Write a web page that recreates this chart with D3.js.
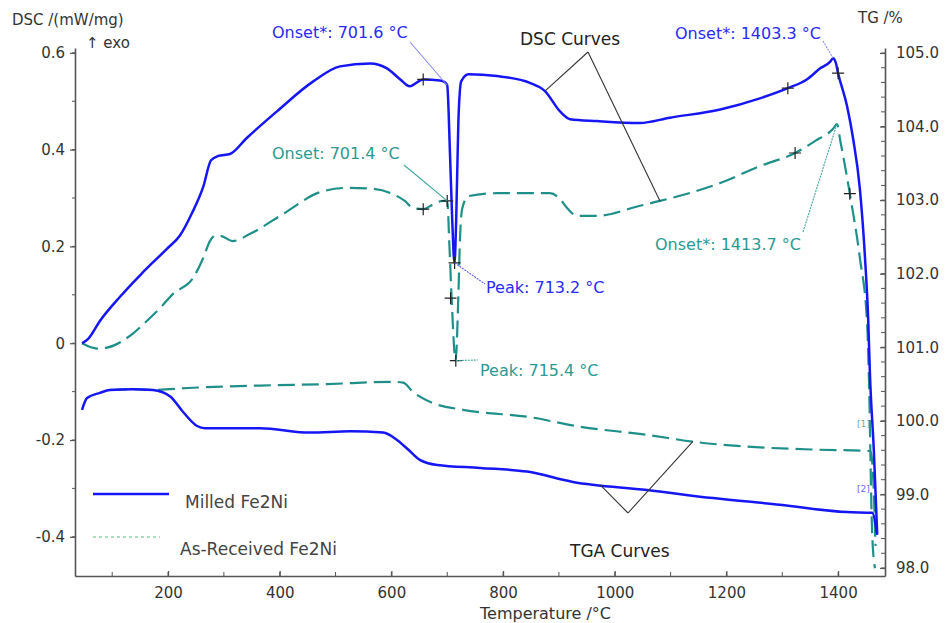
<!DOCTYPE html>
<html>
<head>
<meta charset="utf-8">
<script src="https://cdn.jsdelivr.net/npm/d3@7"></script>
<style>
  body { margin: 0; background: #fff; }
  svg { display: block; font-family: "DejaVu Sans", sans-serif; }
</style>
</head>
<body>
<script>
// temperatures (°C) and readings
const milledDscT = [46, 57, 78, 114, 152, 198, 221, 243, 263, 277, 290, 311, 341, 395, 460, 508, 562, 592, 616, 633, 657, 687, 696, 700, 705, 709, 713, 716, 720, 725, 738, 789, 848, 875, 902, 920, 968, 1045, 1099, 1189, 1260, 1310, 1344, 1368, 1386, 1391, 1396, 1400, 1416, 1427, 1439, 1448, 1454, 1457, 1464, 1470];
const milledDsc = [0.0, 0.009, 0.046, 0.096, 0.143, 0.195, 0.222, 0.269, 0.323, 0.378, 0.387, 0.391, 0.424, 0.479, 0.541, 0.572, 0.578, 0.568, 0.545, 0.531, 0.545, 0.543, 0.539, 0.533, 0.39, 0.253, 0.166, 0.253, 0.459, 0.541, 0.556, 0.552, 0.538, 0.521, 0.479, 0.463, 0.459, 0.455, 0.466, 0.483, 0.506, 0.527, 0.545, 0.568, 0.582, 0.589, 0.579, 0.558, 0.49, 0.422, 0.319, 0.18, 0.046, -0.063, -0.222, -0.393];

const receivedDscT = [46, 73, 91, 137, 162, 186, 209, 245, 263, 275, 284, 293, 316, 347, 406, 472, 521, 567, 603, 624, 639, 657, 675, 692, 700, 704, 708, 715, 720, 723, 727, 738, 789, 884, 902, 915, 933, 968, 1045, 1081, 1189, 1260, 1323, 1359, 1391, 1398, 1404, 1421, 1439, 1452, 1455, 1461, 1466];
const receivedDsc = [0.0, -0.011, -0.009, 0.02, 0.046, 0.073, 0.102, 0.135, 0.176, 0.211, 0.222, 0.222, 0.211, 0.226, 0.267, 0.312, 0.321, 0.319, 0.308, 0.294, 0.279, 0.277, 0.287, 0.294, 0.294, 0.2, 0.09, -0.036, 0.1, 0.22, 0.279, 0.304, 0.31, 0.31, 0.298, 0.279, 0.263, 0.263, 0.284, 0.294, 0.331, 0.366, 0.393, 0.418, 0.443, 0.453, 0.418, 0.309, 0.176, 0.04, -0.063, -0.393, -0.465];

const milledTgT = [46, 55, 78, 96, 137, 173, 204, 227, 252, 266, 365, 454, 526, 585, 610, 630, 651, 682, 759, 843, 925, 1058, 1176, 1296, 1416, 1461, 1470];
const milledTg = [100.15, 100.31, 100.38, 100.42, 100.43, 100.42, 100.33, 100.12, 99.93, 99.90, 99.90, 99.84, 99.86, 99.84, 99.74, 99.61, 99.47, 99.40, 99.36, 99.31, 99.17, 99.06, 98.95, 98.86, 98.76, 98.75, 98.45];

const receivedTgT = [96, 137, 173, 245, 365, 485, 603, 621, 639, 651, 675, 728, 848, 938, 1058, 1147, 1237, 1355, 1458, 1463, 1467];
const receivedTg = [100.42, 100.43, 100.42, 100.45, 100.48, 100.50, 100.53, 100.52, 100.39, 100.33, 100.24, 100.15, 100.05, 99.92, 99.81, 99.71, 99.65, 99.61, 99.59, 99.2, 98.3];

// evaluation marks (+) on the DSC curves
const milledMarks = [[657, 0.545], [713.2, 0.166], [1310, 0.527], [1400, 0.558]];
const receivedMarks = [[657, 0.277], [700, 0.294], [706, 0.093], [715.4, -0.036], [1323, 0.393], [1421, 0.309]];

const tempTicks = [200, 400, 600, 800, 1000, 1200, 1400];
const dscTicks = [-0.4, -0.2, 0, 0.2, 0.4, 0.6];
const tgTicks = [98, 99, 100, 101, 102, 103, 104, 105];

const blue = "#1616f5";
const teal = "#1f8f89";

const width = 945;
const height = 623;

const svg = d3.select("body").append("svg")
    .attr("width", width)
    .attr("height", height)
    .attr("viewBox", [0, 0, width, height]);

const x = d3.scaleLinear().domain([33.4, 1484]).range([75, 885]);
const yL = d3.scaleLinear().domain([-0.481, 0.610]).range([576, 48]);
const yR = d3.scaleLinear().domain([97.891, 105.068]).range([576, 48]);

function styleAxis(g) {
  g.select(".domain").attr("stroke", "#555").attr("stroke-width", 1.6);
  g.selectAll(".tick line").attr("stroke", "#555").attr("stroke-width", 1.2);
  g.selectAll(".tick text")
      .attr("fill", "#333")
      .attr("font-size", 15)
      .attr("font-family", "DejaVu Sans, sans-serif");
}

// minor ticks
const minor = svg.append("g").attr("stroke", "#555").attr("stroke-width", 1);
minor.selectAll(".ml").data(d3.range(-4, 7).map(i => i / 10)).join("line")
    .attr("x1", 72).attr("x2", 75)
    .attr("y1", d => yL(d)).attr("y2", d => yL(d));
minor.selectAll(".mb").data(d3.range(100, 1500, 100)).join("line")
    .attr("x1", d => x(d)).attr("x2", d => x(d))
    .attr("y1", 576).attr("y2", 572);
minor.selectAll(".mr").data(d3.range(490, 526).map(i => i / 5)).join("line")
    .attr("x1", 881).attr("x2", 885)
    .attr("y1", d => yR(d)).attr("y2", d => yR(d));

svg.append("g")
    .attr("transform", "translate(75,0)")
    .call(d3.axisLeft(yL).tickValues(dscTicks)
      .tickFormat(d => d === 0 ? "0" : d.toFixed(1))
      .tickSizeInner(5).tickSizeOuter(0).tickPadding(5))
    .call(styleAxis);

svg.append("g")
    .attr("transform", "translate(0,576)")
    .call(d3.axisBottom(x).tickValues(tempTicks)
      .tickFormat(d => String(d))
      .tickSizeInner(-5).tickSizeOuter(0).tickPadding(11))
    .call(styleAxis);

svg.append("g")
    .attr("transform", "translate(885,0)")
    .call(d3.axisRight(yR).tickValues(tgTicks)
      .tickFormat(d => d.toFixed(1))
      .tickSizeInner(-5).tickSizeOuter(0).tickPadding(11))
    .call(styleAxis);

// axis titles
svg.append("text").attr("x", 12).attr("y", 25).attr("font-size", 15).attr("fill", "#333").text("DSC /(mW/mg)");
svg.append("text").attr("x", 86).attr("y", 48).attr("font-size", 15).attr("fill", "#333").text("\u2191 exo");
svg.append("text").attr("x", 858).attr("y", 23).attr("font-size", 15).attr("fill", "#333").text("TG /%");
svg.append("text").attr("x", 480).attr("y", 619).attr("font-size", 16).attr("fill", "#333").text("Temperature /\u00b0C");

// curves
const lineL = d3.line().x(d => x(d[0])).y(d => yL(d[1])).curve(d3.curveMonotoneX);
const lineR = d3.line().x(d => x(d[0])).y(d => yR(d[1])).curve(d3.curveMonotoneX);

const curves = svg.append("g").attr("fill", "none").attr("stroke-linejoin", "round");

curves.append("path")
    .attr("d", lineR(d3.zip(receivedTgT, receivedTg)))
    .attr("stroke", teal).attr("stroke-width", 2.2).attr("stroke-dasharray", "17,7");
curves.append("path")
    .attr("d", lineL(d3.zip(receivedDscT, receivedDsc)))
    .attr("stroke", teal).attr("stroke-width", 2.2).attr("stroke-dasharray", "17,7");
curves.append("path")
    .attr("d", lineR(d3.zip(milledTgT, milledTg)))
    .attr("stroke", blue).attr("stroke-width", 2.5);
curves.append("path")
    .attr("d", lineL(d3.zip(milledDscT, milledDsc)))
    .attr("stroke", blue).attr("stroke-width", 2.5);

// + marks
const marks = svg.append("g").attr("stroke", "#222").attr("stroke-width", 1.2);
marks.selectAll("path").data(milledMarks.concat(receivedMarks)).join("path")
    .attr("d", d => {
      const px = x(d[0]), py = yL(d[1]);
      return `M${px - 6},${py}H${px + 6}M${px},${py - 6}V${py + 6}`;
    });

// annotations
function label(text, px, py, color, size) {
  svg.append("text").attr("x", px).attr("y", py)
      .attr("font-size", size).attr("fill", color).text(text);
}
function leader(x1, y1, x2, y2, color, dash) {
  svg.append("line")
      .attr("x1", x1).attr("y1", y1).attr("x2", x2).attr("y2", y2)
      .attr("stroke", color).attr("stroke-width", 1.1)
      .attr("stroke-dasharray", dash || null);
}

label("Onset*: 701.6 \u00b0C", 272, 38, "#2a2af5", 16);
leader(410, 42, x(700), yL(0.533), "#8a8af8");

label("Onset: 701.4 \u00b0C", 272, 159, "#2a9a94", 16);
leader(404, 165, x(700), yL(0.294), "#3fa59f");

label("Peak: 713.2 \u00b0C", 486, 293, "#2a2af5", 16);
leader(x(713.2), yL(0.166), 485, 284, "#5a5af5", "2,1");

label("Peak: 715.4 \u00b0C", 480, 376, "#2a9a94", 16);
leader(x(715.4), yL(-0.036), 478, 360, "#3fa59f", "2,1");

label("Onset*: 1403.3 \u00b0C", 675, 39, "#2a2af5", 16);
leader(823, 41, x(1391), yL(0.589), "#8a8af8", "2,1");

label("Onset*: 1413.7 \u00b0C", 655, 250, "#2a9a94", 16);
leader(803, 232, x(1398), yL(0.453), "#3fa59f", "2,1");

label("DSC Curves", 520, 45, "#222", 17);
leader(588, 52, x(875), yL(0.521), "#333");
leader(588, 52, x(1081), yL(0.294), "#333");

label("TGA Curves", 570, 557, "#222", 17);
leader(628, 513, x(974), yR(99.13), "#333");
leader(628, 513, x(1140), yR(99.72), "#333");

label("[1]", 857, 427, "#5fb3ad", 9);
label("[2]", 857, 492, "#6a6af5", 9);

// legend
svg.append("line").attr("x1", 93).attr("x2", 169).attr("y1", 494).attr("y2", 494)
    .attr("stroke", blue).attr("stroke-width", 2.5);
svg.append("text").attr("x", 185).attr("y", 508).attr("font-size", 17).attr("fill", "#444").text("Milled Fe2Ni");
svg.append("line").attr("x1", 93).attr("x2", 160).attr("y1", 537).attr("y2", 537)
    .attr("stroke", "#8fd4a8").attr("stroke-width", 1.5).attr("stroke-dasharray", "3,3");
svg.append("text").attr("x", 180).attr("y", 555).attr("font-size", 17).attr("fill", "#444").text("As-Received Fe2Ni");
</script>
</body>
</html>
